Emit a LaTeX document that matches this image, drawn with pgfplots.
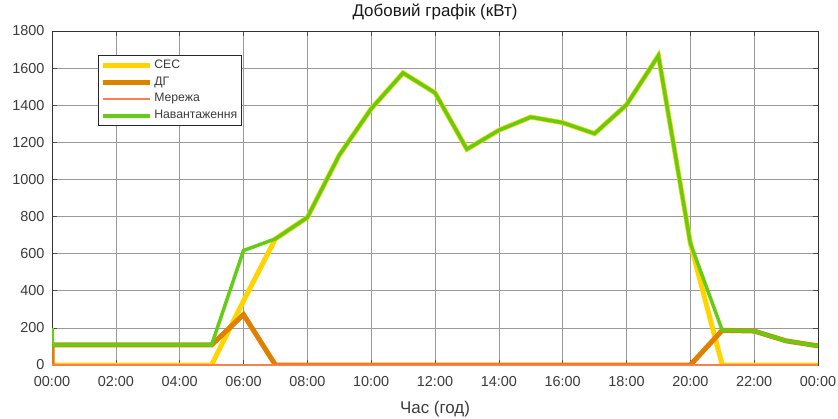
\documentclass[border=0pt]{standalone}
\usepackage{pgfplots}
\pgfplotsset{compat=1.18}
\usepackage{fontspec}
\setmainfont{Liberation Sans}
\definecolor{ses}{RGB}{255,212,0}
\definecolor{dg}{RGB}{224,128,0}
\definecolor{mer}{RGB}{255,125,75}
\definecolor{load}{RGB}{100,204,20}
\definecolor{tickc}{RGB}{60,60,60}
\begin{document}
\begin{tikzpicture}
\begin{axis}[
  at={(0,0)}, anchor=south west,
  width=766bp, height=334bp, scale only axis,
  xmin=0, xmax=24, ymin=0, ymax=1800,
  xtick={0,2,...,24},
  xticklabels={00:00,02:00,04:00,06:00,08:00,10:00,12:00,14:00,16:00,18:00,20:00,22:00,00:00},
  ytick={0,200,...,1800},
  grid=major,
  major grid style={black!40, line width=0.6bp},
  tick align=inside,
  major tick length=5bp,
  tick style={black!70, line width=0.6bp},
  axis line style={black!80, line width=0.7bp},
  ticklabel style={font=\fontsize{14.5}{16}\selectfont, text=tickc},
  xticklabel style={anchor=base, yshift=-21.7bp},
  yticklabel style={xshift=-4bp},
  /pgf/number format/assume math mode=true,
  /pgf/number format/1000 sep={},
  title={Добовий графік (кВт)},
  title style={font=\fontsize{17}{19}\selectfont, text=black!90, at={(axis description cs:0.5,1)}, anchor=base, yshift=8.5bp},
  xlabel={Час (год)},
  xlabel style={font=\fontsize{17}{19}\selectfont, text=tickc, at={(axis description cs:0.5,0)}, anchor=base, yshift=-48bp},
  legend style={at={(0.060,0.928)}, anchor=north west, draw=black!85, line width=0.6bp,
    font=\fontsize{12.3}{13}\selectfont, text=tickc, cells={anchor=west}, row sep=0.8bp, inner sep=2bp,
    nodes={text height=9bp, text depth=3bp, inner sep=2bp}},
  legend image code/.code={\draw[#1] (0bp,0bp) -- (47bp,0bp);},
]
\addplot[ses, line width=5bp] coordinates {
(0,0)(1,0)(2,0)(3,0)(4,0)(5,0)(6,345)(7,680)(8,795)(9,1131)(10,1381)(11,1574)(12,1467)
(13,1163)(14,1265)(15,1336)(16,1306)(17,1247)(18,1402)(19,1667)(20,657)(21,0)(22,0)(23,0)(24,0)};
\addlegendentry{СЕС}
\addplot[dg, line width=5bp] coordinates {
(0,0)(0,108)(1,108)(2,108)(3,108)(4,108)(5,108)(6,272)(7,0)(8,0)(9,0)(10,0)(11,0)(12,0)
(13,0)(14,0)(15,0)(16,0)(17,0)(18,0)(19,0)(20,0)(21,187)(22,183)(23,130)(24,103)};
\addlegendentry{ДГ}
\addplot[mer, line width=1.5bp] coordinates {
(0,0)(1,0)(2,0)(3,0)(4,0)(5,0)(6,0)(7,0)(8,0)(9,0)(10,0)(11,0)(12,0)
(13,0)(14,0)(15,0)(16,0)(17,0)(18,0)(19,0)(20,0)(21,0)(22,0)(23,0)(24,0)};
\addlegendentry{Мережа}
\addplot[load, line width=3.5bp] coordinates {
(0,200)(0,108)(1,108)(2,108)(3,108)(4,108)(5,108)(6,617)(7,680)(8,795)(9,1131)(10,1381)(11,1574)(12,1467)
(13,1163)(14,1265)(15,1336)(16,1306)(17,1247)(18,1402)(19,1667)(20,657)(21,187)(22,183)(23,130)(24,103)};
\addlegendentry{Навантаження}
\end{axis}
\pgfresetboundingbox
\useasboundingbox (-52bp,-54bp) rectangle (786bp,365bp);
\end{tikzpicture}
\end{document}
